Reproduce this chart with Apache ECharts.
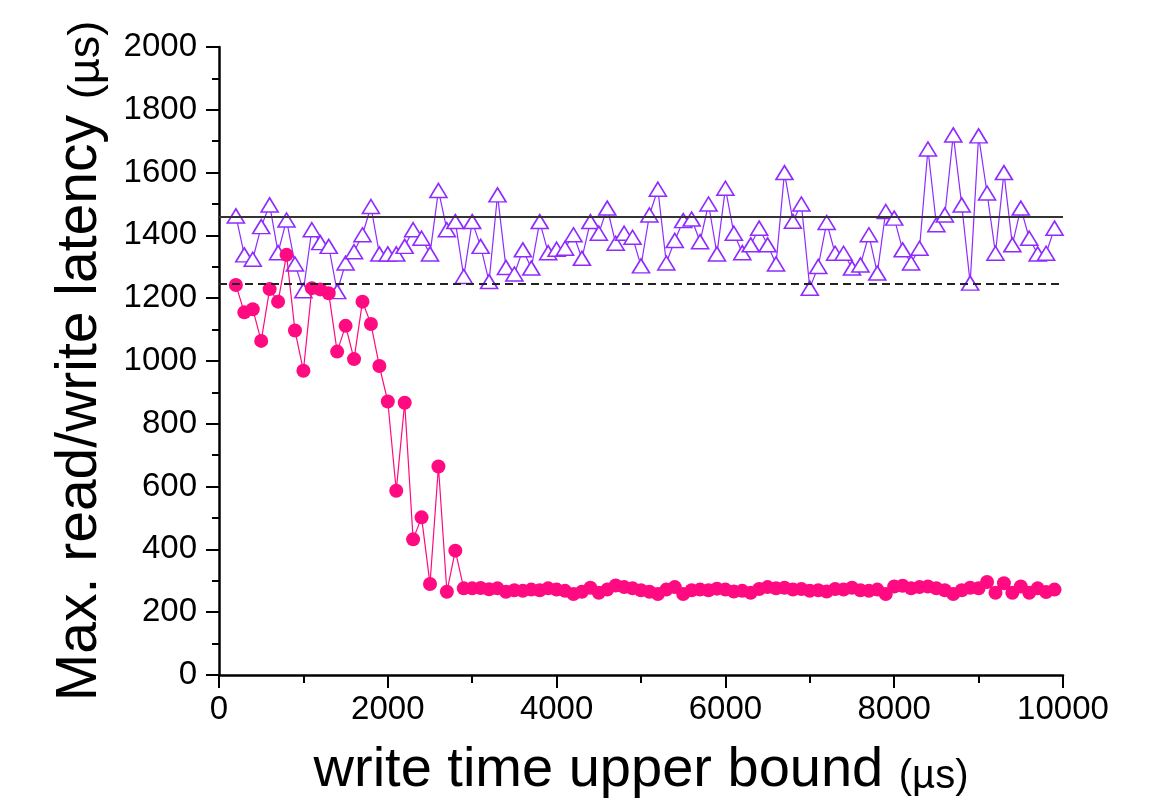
<!DOCTYPE html>
<html>
<head>
<meta charset="utf-8">
<script src="https://cdn.jsdelivr.net/npm/echarts@6/dist/echarts.min.js"></script>
<style>
html,body{margin:0;padding:0;background:#fff;}
#chart{width:1173px;height:809px;}
</style>
</head>
<body>
<div id="chart"></div>
<script>
// x positions (write time upper bound, µs)
const xValues = [];
for (let v = 200; v <= 9900; v += 100) xValues.push(v);

// Max latency, purple triangles
const readLatency = [
  1462, 1338, 1324, 1428, 1497, 1345, 1449, 1309, 1224, 1418,
  1377, 1365, 1221, 1312, 1348, 1402, 1492, 1341, 1341, 1341,
  1365, 1418, 1391, 1341, 1543, 1418, 1444, 1269, 1444, 1365,
  1253, 1529, 1298, 1277, 1354, 1296, 1444, 1345, 1356, 1359,
  1402, 1327, 1444, 1407, 1487, 1375, 1407, 1394, 1303, 1465,
  1547, 1312, 1384, 1447, 1452, 1380, 1500, 1341, 1550, 1407,
  1345, 1370, 1423, 1370, 1309, 1600, 1445, 1500, 1232, 1301,
  1441, 1343, 1343, 1296, 1306, 1402, 1280, 1476, 1455, 1354,
  1312, 1359, 1675, 1434, 1465, 1720, 1497, 1248, 1717, 1535,
  1343, 1600, 1370, 1487, 1391, 1341, 1343, 1423
];

// Max latency, pink dots
const writeLatency = [
  1242, 1155, 1165, 1064, 1229, 1189, 1338, 1097, 969, 1232,
  1228, 1216, 1030, 1112, 1006, 1189, 1118, 984, 871, 587,
  867, 432, 502, 290, 664, 265, 396, 276, 276, 277,
  273, 276, 265, 270, 268, 272, 270, 276, 272, 268,
  258, 265, 278, 262, 272, 285, 280, 276, 270, 265,
  258, 272, 280, 258, 270, 272, 270, 275, 272, 266,
  268, 262, 274, 280, 276, 278, 272, 274, 268, 270,
  266, 274, 272, 278, 270, 268, 272, 258, 282, 284,
  276, 280, 282, 276, 270, 258, 270, 278, 276, 296,
  262, 292, 262, 282, 262, 276, 264, 272
];

// Reference lines
const refSolid = 1460;
const refDashed = 1245;

const xTicks = ['0', '2000', '4000', '6000', '8000', '10000'];
const yTicks = ['0', '200', '400', '600', '800', '1000', '1200', '1400', '1600', '1800', '2000'];

const purple = '#8f2bff';
const pink = '#ff0a80';
const font = '"Liberation Sans", Arial, sans-serif';

const chart = echarts.init(document.getElementById('chart'), null, {renderer: 'canvas'});

const readData = xValues.map((x, i) => [x, readLatency[i]]);
const writeData = xValues.map((x, i) => [x, writeLatency[i]]);

chart.setOption({
  animation: false,
  backgroundColor: '#fff',
  grid: {left: 219, right: 110, top: 47, bottom: 134, containLabel: false},
  xAxis: {
    type: 'value', min: 0, max: 10000, interval: 2000,
    name: '{a|write time upper bound }{b|(µs)}',
    nameLocation: 'middle', nameGap: 62,
    nameTextStyle: {
      rich: {
        a: {fontSize: 56, fontFamily: font, color: '#000', lineHeight: 62, verticalAlign: 'bottom'},
        b: {fontSize: 40, fontFamily: font, color: '#000', lineHeight: 62, verticalAlign: 'bottom', padding: [0,0,2,0]}
      }
    },
    axisLine: {show: true, lineStyle: {color: '#000', width: 2.5}},
    axisTick: {show: true, inside: false, length: 13, lineStyle: {color: '#000', width: 2}},
    minorTick: {show: true, splitNumber: 2, length: 8, lineStyle: {color: '#000', width: 2}},
    splitLine: {show: false},
    axisLabel: {
      margin: 18, fontSize: 33, fontFamily: font, color: '#000',
      formatter: (v) => { const i = Math.round(v / 2000); return xTicks[i] !== undefined ? xTicks[i] : String(v); }
    }
  },
  yAxis: {
    type: 'value', min: 0, max: 2000, interval: 200,
    name: '{a|Max. read/write latency }{b|(µs)}',
    nameLocation: 'middle', nameGap: 110, nameRotate: 90,
    nameTextStyle: {
      rich: {
        a: {fontSize: 57, fontFamily: font, color: '#000', lineHeight: 62, verticalAlign: 'bottom'},
        b: {fontSize: 45, fontFamily: font, color: '#000', lineHeight: 62, verticalAlign: 'bottom'}
      }
    },
    axisLine: {show: true, lineStyle: {color: '#000', width: 2.5}},
    axisTick: {show: true, inside: false, length: 13, lineStyle: {color: '#000', width: 2}},
    minorTick: {show: true, splitNumber: 2, length: 7, lineStyle: {color: '#000', width: 2}},
    splitLine: {show: false},
    axisLabel: {
      margin: 22, fontSize: 33, fontFamily: font, color: '#000',
      formatter: (v) => { const i = Math.round(v / 200); return yTicks[i] !== undefined ? yTicks[i] : String(v); }
    }
  },
  series: [
    {
      name: 'read', type: 'line', data: readData,
      symbol: 'triangle', symbolSize: [17, 14],
      itemStyle: {color: '#fff', borderColor: purple, borderWidth: 1.6},
      lineStyle: {color: purple, width: 1.2},
      z: 3,
      markLine: {
        silent: true, symbol: 'none', label: {show: false},
        data: [
          {yAxis: refSolid, lineStyle: {color: '#333', width: 1.8, type: 'solid'}},
          {yAxis: refDashed, lineStyle: {color: '#222', width: 1.8, type: [8, 5]}}
        ]
      }
    },
    {
      name: 'write', type: 'line', data: writeData,
      symbol: 'circle', symbolSize: 14,
      itemStyle: {color: pink, borderWidth: 0},
      lineStyle: {color: pink, width: 1.2},
      z: 4
    }
  ]
});
</script>
</body>
</html>
